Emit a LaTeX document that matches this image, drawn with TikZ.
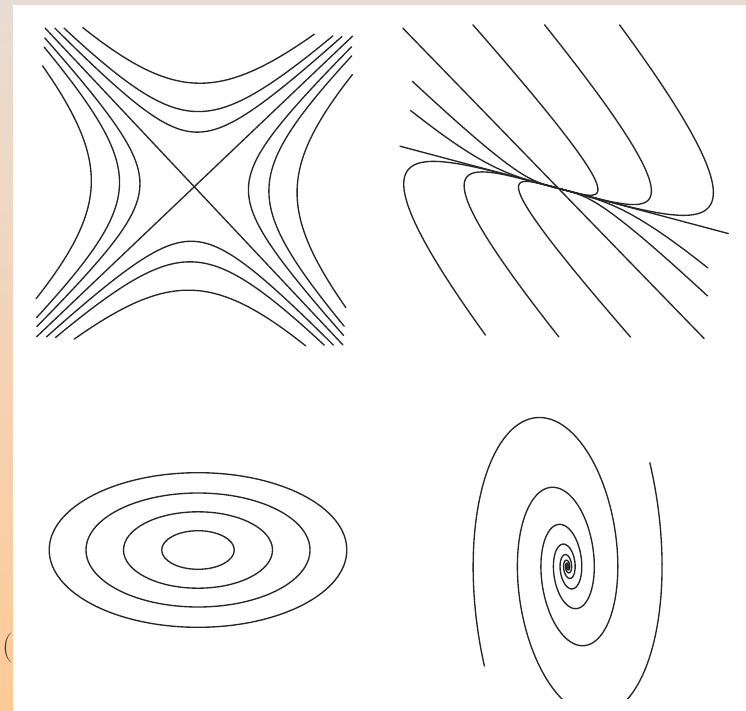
\documentclass[tikz,border=0pt]{standalone}
\definecolor{bgbeige}{HTML}{E7DDD5}
\definecolor{bgpeach}{HTML}{F3D3B6}
\definecolor{bgorange}{HTML}{FDCA96}
\definecolor{parcol}{HTML}{4D4137}
\newcommand{\hypbr}[4]{%
  \draw[curve] plot[domain=-#4:#4, samples=90, variable=\t]
   ({194.2+#3*((#1)*exp(-\t)*0.685+(#2)*exp(\t)*0.7247)},
    {186.7+#3*((#1)*exp(-\t)*0.729-(#2)*exp(\t)*0.689)});}
\newcommand{\nodecurve}[2]{%
  \draw[curve] plot[domain=0.01:1, samples=140, variable=\pp]
   ({558.33+(#1)*\pp+(#2)*\pp^4.2},
    {188.33+0.266*(#1)*\pp+1.03*(#2)*\pp^4.2});}
\begin{document}
\begin{tikzpicture}[x=1pt,y=-1pt,
  curve/.style={line width=1.35pt, black!85, line join=round, line cap=round}]
\useasboundingbox (0,0) rectangle (746,711);
% background
\fill[bgbeige] (0,0) rectangle (746,711);
\shade[top color=bgbeige, bottom color=bgorange, middle color=bgpeach] (0,0) rectangle (13,711);
\node[anchor=base west, text=parcol, font=\fontsize{30}{30}\selectfont, inner sep=0pt] (paren) at (2,655.5) {(};
\fill[white] (13,5) rectangle (746,711);

% ---------- panel 1: saddle ----------
\coordinate (s1a) at (45,28);   \coordinate (s1b) at (343,345);
\coordinate (s2a) at (36.7,336.7); \coordinate (s2b) at (352.7,36);
\draw[curve] (s1a) -- (s1b);
\draw[curve] (s2a) -- (s2b);
% upper
\hypbr{-1}{1}{38.5}{1.70}
\hypbr{-1}{1}{53}{1.35}
\hypbr{-1}{1}{73}{0.967}
% lower
\hypbr{1}{-1}{38.5}{1.70}
\hypbr{1}{-1}{53}{1.35}
\hypbr{1}{-1}{73}{0.967}
% left
\hypbr{-1}{-1}{38.5}{1.70}
\hypbr{-1}{-1}{53}{1.35}
\hypbr{-1}{-1}{73}{0.967}
% right
\hypbr{1}{1}{38.5}{1.70}
\hypbr{1}{1}{53}{1.35}
\hypbr{1}{1}{73}{0.967}

% ---------- panel 2: node ----------
\coordinate (m1) at (400,146.2); \coordinate (m2) at (728.3,233.55);
\coordinate (f1) at (402.8,28.1); \coordinate (f2) at (704.2,338.6);
\draw[curve] (m1) -- (m2);
\draw[curve] (f1) -- (f2);
\nodecurve{99}{-185.7}
\nodecurve{195.7}{-210.7}
\nodecurve{296.9}{-236.9}
\nodecurve{-97.5}{170.8}
\nodecurve{-194.1}{195.8}
\nodecurve{-290.8}{219.1}
\nodecurve{-56.8}{-89.9}
\nodecurve{-97.5}{-50.9}
\nodecurve{97.5}{52.5}
\nodecurve{60.4}{89.6}

% ---------- panel 3: centre ----------
\coordinate (ec) at (198,550);
\draw[curve] (ec) ellipse [x radius=148.8, y radius=77.3];
\draw[curve] (ec) ellipse [x radius=112, y radius=57];
\draw[curve] (ec) ellipse [x radius=74.5, y radius=38.2];
\draw[curve] (ec) ellipse [x radius=36.3, y radius=19.3];

% ---------- panel 4: focus ----------
\begin{scope}
\clip (420,380) rectangle (746,698.3);
\draw[curve] plot[domain=-900:566.9, samples=700, variable=\pp]
  ({567.6+14.2*exp(0.0035099*\pp)*(cos(\pp)-0.2*sin(\pp))},
   {566.5-2.12*14.2*exp(0.0035099*\pp)*sin(\pp)});
\draw[curve] plot[domain=-900:568, samples=700, variable=\pp]
  ({567.6-14.2*exp(0.0035099*\pp)*(cos(\pp)-0.2*sin(\pp))},
   {566.5+2.12*14.2*exp(0.0035099*\pp)*sin(\pp)});
\end{scope}
\end{tikzpicture}
\end{document}
